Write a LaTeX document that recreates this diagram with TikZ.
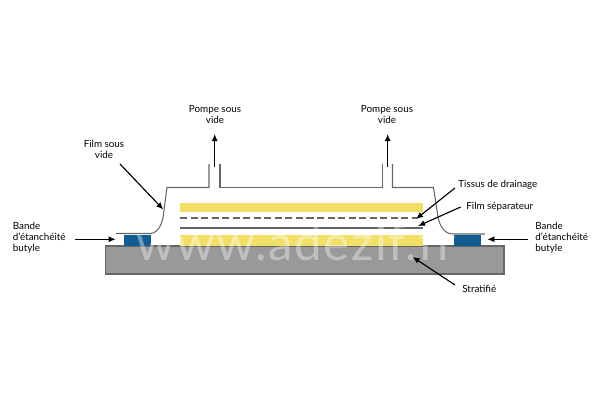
\documentclass[tikz,border=0pt]{standalone}
\usepackage{fontspec}
\setmainfont{Lato}
\newfontfamily\markfont[LetterSpace=3]{Lato}
\usetikzlibrary{arrows.meta}
\definecolor{kGrey}{rgb}{0.60,0.60,0.60}
\definecolor{kYellow}{rgb}{0.95,0.88,0.40}
\definecolor{kBlue}{rgb}{0.07,0.36,0.57}
\definecolor{kFilm}{rgb}{0.40,0.40,0.40}
\tikzset{
  label/.style={font=\fontsize{5.6}{6.3}\selectfont,inner sep=0pt,align=center},
  labelleft/.style={label,align=left,anchor=west},
  pointer/.style={-{Latex[length=4pt,width=3.4pt]},black,line width=0.65pt},
  film/.style={color=kFilm,line width=0.6pt},
}
\begin{document}
\begin{tikzpicture}[x=0.02cm,y=-0.02cm]
  \useasboundingbox (0,0) rectangle (600,400);

  % laminate and layers
  \fill[kGrey] (105.5,246) rectangle (504,274);
  \draw[film] (105.5,246) rectangle (504,274);
  \fill[kBlue] (124,235) rectangle (151,246);
  \fill[kBlue] (454.5,235) rectangle (481,246);
  \fill[kYellow] (180,235) rectangle (423.5,246);
  \fill[kYellow] (180,203) rectangle (423.5,212);
  \draw[film,dash pattern=on 4pt off 2pt] (180,218) -- (417,218);
  \draw[film] (180,228) -- (423.5,228);

  % vacuum film
  \draw[film] (116,233.5) -- (150,233.5) .. controls (158,233.5) and (163,224) .. (164,210)
    -- (167,187.5) -- (209,187.5) -- (209,164);
  \draw[film] (220,164) -- (220,187.5) -- (382.5,187.5) -- (382.5,164);
  \draw[film] (392.5,164) -- (392.5,187.5) -- (433.5,187.5) -- (438,217)
    .. controls (440,227) and (445,234) .. (453,234) -- (485,234);

  % watermark
  \node[inner sep=0pt,anchor=base,font=\markfont\fontsize{28}{28}\selectfont,text=white,text opacity=0.38] (mark) at (296,260) {www.adezif.fr};

  % labels
  \node[label] (pumpA) at (215,114.5) {Pompe sous\\vide};
  \node[label] (pumpB) at (387,114.5) {Pompe sous\\vide};
  \node[label] (filmVac) at (104,149.5) {Film sous\\vide};
  \node[labelleft] (tissue) at (458,185) {Tissus de drainage};
  \node[labelleft] (sepFilm) at (466,206.5) {Film séparateur};
  \node[labelleft] (tapeL) at (12.5,238) {Bande\\d'étanchéité\\butyle};
  \node[labelleft] (tapeR) at (535,238) {Bande\\d'étanchéité\\butyle};
  \node[labelleft] (laminate) at (462,289) {Stratifié};

  % arrows
  \coordinate (pumpAend) at (214.7,167);
  \coordinate (pumpBend) at (387.7,167);
  \coordinate (pumpAtip) at (214.7,134);
  \coordinate (pumpBtip) at (387.7,134);
  \draw[pointer] (pumpAend) -- (pumpAtip);
  \draw[pointer] (pumpBend) -- (pumpBtip);
  \draw[pointer] (120,164) -- (163.3,209.5);
  \draw[pointer] (75,239.3) -- (115.7,239.3);
  \draw[pointer] (528,239.3) -- (487.3,239.3);
  \draw[pointer] (455,188) -- (416,219);
  \draw[pointer] (460.7,207) -- (418,226);
  \draw[pointer] (455,285) -- (412.7,257);
\end{tikzpicture}
\end{document}
